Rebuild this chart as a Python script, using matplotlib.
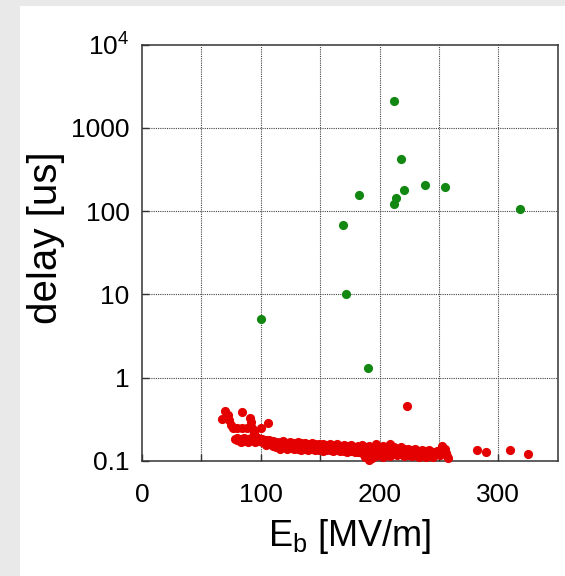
import matplotlib
matplotlib.use("Agg")
import matplotlib.pyplot as plt
from matplotlib.patches import Rectangle
from matplotlib.ticker import FixedLocator, NullLocator, FixedFormatter

plt.rcParams['font.family'] = ['Liberation Sans', 'DejaVu Sans']
plt.rcParams['mathtext.fontset'] = 'custom'
plt.rcParams['mathtext.rm'] = 'Liberation Sans'
plt.rcParams['mathtext.it'] = 'Liberation Sans'

# Long-delay breakdowns
green_eb = [100, 169, 172, 183, 190, 212, 212, 214, 218, 221, 238, 255, 318]
green_delay = [5.0, 68, 10, 156, 1.3, 2100, 122, 144, 423, 179, 206, 195, 106]

# Prompt breakdowns
red_eb = [
    67, 70, 72, 73, 75, 77, 80, 84, 84, 88, 91, 92, 93, 94, 94, 100, 106,
    223, 282, 290, 310, 325, 253, 255, 256, 257, 258,
    78, 80, 80, 83, 83, 86, 86, 89, 89, 92, 92, 95, 95, 95, 98, 98,
    101, 101, 104, 104, 104, 107, 107, 110, 110, 110, 113, 113, 113,
    116, 116, 116, 119, 119, 119, 122, 122, 122, 125, 125, 125,
    128, 128, 128, 131, 131, 131, 134, 134, 134, 137, 137, 137,
    140, 140, 140, 143, 143, 143, 146, 146, 146, 149, 149, 149,
    152, 152, 152, 155, 155, 155, 158, 158, 158, 161, 161, 161,
    164, 164, 164, 167, 167, 167, 170, 170, 170, 173, 173, 173,
    176, 176, 176, 179, 179, 179, 182, 182, 182, 185, 185, 185,
    188, 188, 188, 188, 191, 191, 191, 191, 194, 194, 194, 194,
    197, 197, 197, 197, 200, 200, 200, 203, 203, 203, 203,
    206, 206, 206, 209, 209, 209, 209, 212, 212, 212, 215, 215, 215,
    218, 218, 218, 221, 221, 221, 224, 224, 224, 227, 227, 227,
    230, 230, 230, 233, 233, 233, 236, 236, 236, 239, 239, 239,
    242, 242, 242, 245, 245, 245, 248, 248, 251, 251,
]
red_delay = [
    0.32, 0.40, 0.35, 0.31, 0.27, 0.25, 0.245, 0.38, 0.245, 0.245, 0.33, 0.29, 0.245, 0.23, 0.215, 0.25, 0.28,
    0.46, 0.134, 0.127, 0.134, 0.12, 0.15, 0.14, 0.125, 0.115, 0.108,
    0.18, 0.185, 0.175, 0.18, 0.17, 0.185, 0.172, 0.18, 0.17, 0.19, 0.175, 0.18, 0.17, 0.20, 0.185, 0.172,
    0.18, 0.168, 0.178, 0.165, 0.155, 0.175, 0.16, 0.172, 0.158, 0.15, 0.17, 0.155, 0.145,
    0.168, 0.152, 0.14, 0.172, 0.158, 0.145, 0.165, 0.15, 0.138, 0.17, 0.155, 0.142,
    0.165, 0.15, 0.138, 0.168, 0.152, 0.14, 0.162, 0.148, 0.136, 0.165, 0.15, 0.14,
    0.16, 0.147, 0.135, 0.163, 0.15, 0.138, 0.158, 0.145, 0.133, 0.16, 0.148, 0.136,
    0.158, 0.143, 0.132, 0.155, 0.145, 0.135, 0.16, 0.147, 0.133, 0.155, 0.142, 0.13,
    0.158, 0.145, 0.134, 0.152, 0.14, 0.13, 0.155, 0.143, 0.132, 0.15, 0.138, 0.128,
    0.153, 0.14, 0.13, 0.148, 0.136, 0.126, 0.15, 0.14, 0.128, 0.155, 0.138, 0.125,
    0.148, 0.135, 0.122, 0.112, 0.15, 0.138, 0.125, 0.102, 0.145, 0.133, 0.12, 0.108,
    0.16, 0.14, 0.128, 0.115, 0.145, 0.132, 0.12, 0.15, 0.135, 0.122, 0.112,
    0.143, 0.13, 0.118, 0.16, 0.14, 0.127, 0.115, 0.145, 0.13, 0.12, 0.14, 0.128, 0.117,
    0.145, 0.132, 0.12, 0.138, 0.126, 0.115, 0.14, 0.128, 0.118, 0.135, 0.125, 0.114,
    0.138, 0.126, 0.116, 0.132, 0.122, 0.112, 0.135, 0.124, 0.114, 0.13, 0.12, 0.11,
    0.133, 0.122, 0.113, 0.128, 0.118, 0.11, 0.13, 0.12, 0.125, 0.116,
]

x_ticks = [0, 100, 200, 300]
x_tick_labels = ['0', '100', '200', '300']
x_grid = [50, 100, 150, 200, 250, 300]
y_ticks = [0.1, 1, 10, 100, 1000, 10000]
y_tick_labels = ['0.1', '1', '10', '100', '1000', r'$\mathregular{10^{4}}$']

W, H = 565, 576
fig = plt.figure(figsize=(W / 100, H / 100), dpi=100, facecolor='#e9e9e9')
fig.patches.append(Rectangle((20 / W, 0), 1 - 20 / W, 1 - 6 / H,
                             transform=fig.transFigure, facecolor='white',
                             edgecolor='none', zorder=-10))

ax = fig.add_axes([142 / W, 1 - 460.7 / H, (557.7 - 142) / W, (460.7 - 44.7) / H])
ax.set_zorder(5)
ax.set_facecolor('white')
ax.set_xlim(0, 350)
ax.set_yscale('log')
ax.set_ylim(0.1, 1e4)

grid_kw = dict(color='#444444', linewidth=0.8, linestyle=(0, (1, 1)), zorder=1)
for gx in x_grid:
    ax.axvline(gx, **grid_kw)
for gy in y_ticks[1:-1]:
    ax.axhline(gy, **grid_kw)

ax.plot(red_eb, red_delay, 'o', color='#e40000', markersize=6.6,
        markeredgewidth=0, zorder=3, clip_on=False)
ax.plot(green_eb, green_delay, 'o', color='#128812', markersize=6.6,
        markeredgewidth=0, zorder=4)

ax.xaxis.set_major_locator(FixedLocator(x_ticks))
ax.xaxis.set_major_formatter(FixedFormatter(x_tick_labels))
ax.xaxis.set_minor_locator(FixedLocator(x_grid))
ax.yaxis.set_major_locator(FixedLocator(y_ticks))
ax.yaxis.set_major_formatter(FixedFormatter(y_tick_labels))
ax.yaxis.set_minor_locator(NullLocator())

ax.tick_params(axis='both', which='both', direction='in', length=5,
               width=1.0, color='#333333', labelsize=19,
               top=False, right=False)
ax.tick_params(axis='x', which='major', pad=16)
ax.tick_params(axis='y', which='major', pad=9)
ax.tick_params(axis='x', which='minor', length=5)

for s in ax.spines.values():
    s.set_color('#333333')
    s.set_linewidth(1.1)

fig.text(350 / W, 1 - 536 / H, r'E$_\mathrm{b}$ [MV/m]', fontsize=26,
         ha='center', va='center')
fig.text(46 / W, 1 - 238 / H, 'delay [us]', fontsize=29, rotation=90,
         ha='center', va='center')

fig.savefig('out.png', dpi=100, facecolor=fig.get_facecolor())
